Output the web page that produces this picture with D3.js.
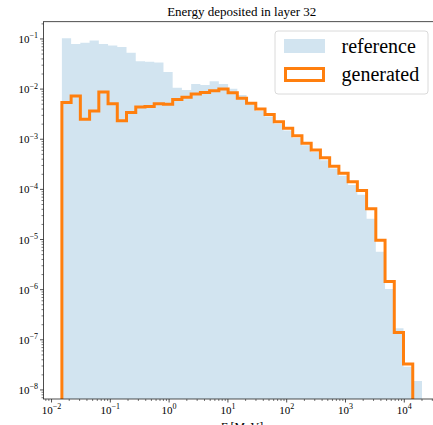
<!DOCTYPE html>
<html>
<head>
<meta charset="utf-8">
<script src="https://cdn.jsdelivr.net/npm/d3@7"></script>
<style>
  html, body { margin: 0; padding: 0; background: #fff; }
  svg { display: block; }
  text { font-family: "Liberation Serif", "DejaVu Serif", serif; fill: #000; }
</style>
</head>
<body>
<svg id="chart" width="433" height="425"></svg>
<script>
// Histogram binning (log-spaced edges, MeV)
const binLow = 0.015;
const binHigh = 20000;
const binCount = 39;

// Normalised counts per bin, reference sample
const referenceCounts = [
  0.103, 0.079, 0.084, 0.093, 0.079, 0.074, 0.069, 0.053, 0.036, 0.035,
  0.034, 0.022, 0.0107, 0.0096, 0.0127, 0.0121, 0.0143, 0.0127, 0.0102, 0.0076,
  0.0050, 0.00365, 0.00283, 0.00204, 0.0015, 0.00107, 0.00076, 0.00056, 0.00038, 0.00026,
  0.000187, 0.000122, 0.000078, 0.000026, 0.0000057, 0.00000103, 1.7e-7, 2.9e-8, 1.5e-8
];

// Normalised counts per bin, generated sample (last bin empty)
const generatedCounts = [
  0.0054, 0.0073, 0.0025, 0.00367, 0.0088, 0.0051, 0.00234, 0.0034, 0.0044, 0.0045,
  0.0051, 0.0050, 0.0062, 0.0069, 0.0080, 0.0086, 0.0093, 0.0101, 0.0085, 0.0066,
  0.0052, 0.0040, 0.0031, 0.00224, 0.00165, 0.00117, 0.00083, 0.00061, 0.00043, 0.00029,
  0.00021, 0.000142, 0.000095, 0.000041, 0.0000097, 0.00000145, 1.4e-7, 3.3e-8, 0
];

const yTicks = [1e-1, 1e-2, 1e-3, 1e-4, 1e-5, 1e-6, 1e-7, 1e-8];
const yTickExp = ["\u22121", "\u22122", "\u22123", "\u22124", "\u22125", "\u22126", "\u22127", "\u22128"];
const xTicks = [1e-2, 1e-1, 1e0, 1e1, 1e2, 1e3, 1e4];
const xTickExp = ["\u22122", "\u22121", "0", "1", "2", "3", "4"];

const titleText = "Energy deposited in layer 32";
const legendLabels = ["reference", "generated"];

const blueFill = "rgba(31,119,180,0.2)";
const orange = "#ff7f0e";

const svg = d3.select("#chart");
const plotLeft = 43.5, plotRight = 440, plotTop = 21.7, plotBottom = 399;

const x = d3.scaleLog().domain([0.0073, 40500]).range([plotLeft, plotRight]);
const y = d3.scaleLog().domain([6.6e-9, 0.221]).range([plotBottom, plotTop]);

const lgLo = Math.log10(binLow), lgHi = Math.log10(binHigh);
const edges = d3.range(binCount + 1).map(i => Math.pow(10, lgLo + (lgHi - lgLo) * i / binCount));

svg.append("defs").append("clipPath").attr("id", "plot-clip")
  .append("rect").attr("x", plotLeft).attr("y", plotTop)
  .attr("width", plotRight - plotLeft).attr("height", plotBottom - plotTop);

const plot = svg.append("g").attr("clip-path", "url(#plot-clip)");
const floorY = plotBottom + 20;

function stepPoints(counts) {
  const pts = [];
  let last = counts.length;
  while (last > 0 && counts[last - 1] <= 0) last--;
  pts.push([x(edges[0]), floorY]);
  for (let i = 0; i < last; i++) {
    const yy = counts[i] > 0 ? y(counts[i]) : floorY;
    pts.push([x(edges[i]), yy]);
    pts.push([x(edges[i + 1]), yy]);
  }
  pts.push([x(edges[last]), floorY]);
  return pts;
}

const line = d3.line();

// reference: filled step histogram
plot.append("path")
  .attr("d", line(stepPoints(referenceCounts)) + "Z")
  .attr("fill", blueFill)
  .attr("stroke", "none");

// generated: step outline
plot.append("path")
  .attr("d", line(stepPoints(generatedCounts)))
  .attr("fill", "none")
  .attr("stroke", orange)
  .attr("stroke-width", 3)
  .attr("stroke-linejoin", "miter");

// frame
svg.append("rect")
  .attr("x", plotLeft).attr("y", plotTop)
  .attr("width", plotRight - plotLeft).attr("height", plotBottom - plotTop)
  .attr("fill", "none").attr("stroke", "#222").attr("stroke-width", 0.8);

// minor ticks
function minorTicks(lo, hi) {
  const out = [];
  for (let e = lo; e <= hi; e++) for (let m = 2; m <= 9; m++) out.push(m * Math.pow(10, e));
  return out;
}
const ax = svg.append("g").attr("stroke", "#222");
minorTicks(-9, 0).filter(v => v >= y.domain()[0] && v <= y.domain()[1]).forEach(v => {
  ax.append("line").attr("x1", plotLeft).attr("x2", plotLeft - 2)
    .attr("y1", y(v)).attr("y2", y(v)).attr("stroke-width", 0.6);
});
minorTicks(-3, 4).filter(v => v >= x.domain()[0] && v <= x.domain()[1]).forEach(v => {
  ax.append("line").attr("y1", plotBottom).attr("y2", plotBottom + 2)
    .attr("x1", x(v)).attr("x2", x(v)).attr("stroke-width", 0.6);
});

// major ticks and labels
yTicks.forEach((v, i) => {
  ax.append("line").attr("x1", plotLeft).attr("x2", plotLeft - 3.5)
    .attr("y1", y(v)).attr("y2", y(v)).attr("stroke-width", 0.8);
  const t = svg.append("text").attr("x", plotLeft - 5.5).attr("y", y(v) + 4)
    .attr("text-anchor", "end").attr("font-size", 11);
  t.append("tspan").text("10");
  t.append("tspan").attr("dy", -4.5).attr("font-size", 8).text(yTickExp[i]);
});
xTicks.forEach((v, i) => {
  ax.append("line").attr("y1", plotBottom).attr("y2", plotBottom + 3.5)
    .attr("x1", x(v)).attr("x2", x(v)).attr("stroke-width", 0.8);
  const t = svg.append("text").attr("x", x(v)).attr("y", plotBottom + 14.5)
    .attr("text-anchor", "middle").attr("font-size", 11);
  t.append("tspan").text("10");
  t.append("tspan").attr("dy", -4.5).attr("font-size", 8).text(xTickExp[i]);
});

// axis label
const xl = svg.append("text").attr("x", (plotLeft + plotRight) / 2).attr("y", 431)
  .attr("text-anchor", "middle").attr("font-size", 12);
xl.append("tspan").attr("font-style", "italic").text("E");
xl.append("tspan").text(" [MeV]");

// title
svg.append("text").attr("x", (plotLeft + plotRight) / 2).attr("y", 15.5)
  .attr("text-anchor", "middle").attr("font-size", 13).text(titleText);

// legend
const lg = svg.append("g");
lg.append("rect").attr("x", 275).attr("y", 31).attr("width", 153).attr("height", 63)
  .attr("rx", 3).attr("fill", "rgba(255,255,255,0.8)").attr("stroke", "#d0d0d0").attr("stroke-width", 0.8);
lg.append("rect").attr("x", 284).attr("y", 39).attr("width", 41).attr("height", 14).attr("fill", blueFill);
lg.append("rect").attr("x", 285.5).attr("y", 68.5).attr("width", 38).attr("height", 12)
  .attr("fill", "none").attr("stroke", orange).attr("stroke-width", 3);
lg.append("text").attr("x", 341.5).attr("y", 52.5).attr("font-size", 20).text(legendLabels[0]);
lg.append("text").attr("x", 341.5).attr("y", 81).attr("font-size", 20).text(legendLabels[1]);
</script>
</body>
</html>
